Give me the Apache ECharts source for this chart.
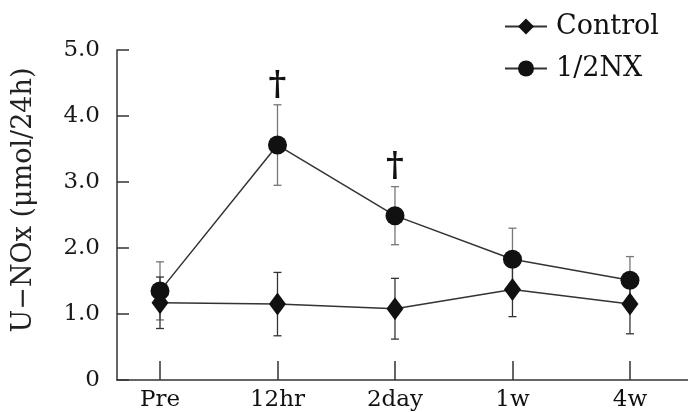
<!DOCTYPE html>
<html>
<head>
<meta charset="utf-8">
<script src="https://cdn.jsdelivr.net/npm/echarts@6/dist/echarts.min.js"></script>
<style>
html,body{margin:0;padding:0;background:#fff;}
#chart{width:688px;height:412px;}
</style>
</head>
<body>
<div id="chart"></div>
<script>
const categories = ['Pre', '12hr', '2day', '1w', '4w'];
const controlMean = [1.17, 1.15, 1.08, 1.37, 1.15];
const controlSD = [0.39, 0.48, 0.46, 0.41, 0.45];
const nxMean = [1.35, 3.56, 2.49, 1.83, 1.51];
const nxSD = [0.44, 0.61, 0.44, 0.47, 0.36];
const nxMarks = ['', '†', '†', '', ''];
const yTickValues = [0, 1, 2, 3, 4, 5];
const seriesNames = ['Control', '1/2NX'];
const yAxisTitle = 'U−NOx (μmol/24h)';

const FONT = 'DejaVu Serif';
const idx = categories.map((c, i) => i);

function errData(mean, sd) {
  return mean.map((m, i) => [i, m - sd[i], m + sd[i]]);
}
function errRender(color) {
  return function (params, api) {
    const x = api.value(0), lo = api.value(1), hi = api.value(2);
    const pLo = api.coord([x, lo]), pHi = api.coord([x, hi]);
    const cw = 4;
    const st = { stroke: color, lineWidth: 1.3 };
    return {
      type: 'group',
      children: [
        { type: 'line', shape: { x1: pLo[0], y1: pLo[1], x2: pHi[0], y2: pHi[1] }, style: st },
        { type: 'line', shape: { x1: pHi[0] - cw, y1: pHi[1], x2: pHi[0] + cw, y2: pHi[1] }, style: st },
        { type: 'line', shape: { x1: pLo[0] - cw, y1: pLo[1], x2: pLo[0] + cw, y2: pLo[1] }, style: st }
      ]
    };
  };
}

const markData = [];
const markText = [];
nxMarks.forEach((m, i) => {
  if (m) { markData.push([i, nxMean[i] + nxSD[i]]); markText.push(m); }
});

const chart = echarts.init(document.getElementById('chart'), null, { renderer: 'canvas' });
chart.setOption({
  animation: false,
  backgroundColor: '#ffffff',
  textStyle: { fontFamily: FONT },
  grid: { left: 117, right: 0, top: 50, bottom: 26 },
  legend: {
    data: seriesNames,
    orient: 'vertical',
    left: 499,
    top: 8,
    itemWidth: 42,
    itemHeight: 20,
    itemGap: 15,
    textStyle: { fontFamily: FONT, fontSize: 27, color: '#111', padding: [0, 0, 0, 4] }
  },
  xAxis: {
    type: 'value',
    min: -0.366,
    max: 4.494,
    splitLine: { show: false },
    axisLine: { show: true, onZero: false, lineStyle: { color: '#333', width: 1.5 } },
    axisTick: { show: true, inside: true, length: 19, customValues: idx, lineStyle: { color: '#333', width: 1.5 } },
    axisLabel: {
      customValues: idx,
      formatter: v => categories[Math.round(v)],
      fontFamily: FONT, fontSize: 23, color: '#111', margin: 9
    }
  },
  yAxis: {
    type: 'value',
    min: 0,
    max: 5,
    interval: 1,
    name: yAxisTitle,
    nameLocation: 'middle',
    nameGap: 80,
    nameTextStyle: { fontFamily: FONT, fontSize: 27, color: '#222', padding: [0, 0, 0, 30] },
    splitLine: { show: false },
    axisLine: { show: true, onZero: false, lineStyle: { color: '#333', width: 1.5 } },
    axisTick: { show: true, inside: true, length: 12, lineStyle: { color: '#333', width: 1.5 } },
    axisLabel: {
      formatter: v => (yTickValues.indexOf(v) === 0 ? '0' : v.toFixed(1)),
      fontFamily: FONT, fontSize: 23, color: '#1a1a1a', margin: 17
    }
  },
  series: [
    {
      type: 'custom',
      name: 'nxErr',
      renderItem: errRender('#777'),
      data: errData(nxMean, nxSD),
      encode: { x: 0, y: [1, 2] },
      z: 1,
      silent: true
    },
    {
      type: 'custom',
      name: 'ctrlErr',
      renderItem: errRender('#333'),
      data: errData(controlMean, controlSD),
      encode: { x: 0, y: [1, 2] },
      z: 1,
      silent: true
    },
    {
      type: 'line',
      name: seriesNames[1],
      data: nxMean.map((v, i) => [i, v]),
      symbol: 'circle',
      symbolSize: 19,
      lineStyle: { color: '#333', width: 1.5 },
      itemStyle: { color: '#111' },
      z: 3
    },
    {
      type: 'line',
      name: seriesNames[0],
      data: controlMean.map((v, i) => [i, v]),
      symbol: 'diamond',
      symbolSize: [17, 23],
      lineStyle: { color: '#333', width: 1.5 },
      itemStyle: { color: '#111' },
      z: 4
    },
    {
      type: 'custom',
      name: 'marks',
      data: markData,
      encode: { x: 0, y: 1 },
      z: 5,
      silent: true,
      renderItem: function (params, api) {
        const p = api.coord([api.value(0), api.value(1)]);
        return {
          type: 'text',
          x: p[0],
          y: p[1] - 2,
          style: {
            text: markText[params.dataIndex],
            fontFamily: FONT,
            fontSize: 34,
            fontWeight: 'bold',
            fill: '#111',
            align: 'center',
            verticalAlign: 'bottom'
          }
        };
      }
    }
  ]
});
</script>
</body>
</html>
